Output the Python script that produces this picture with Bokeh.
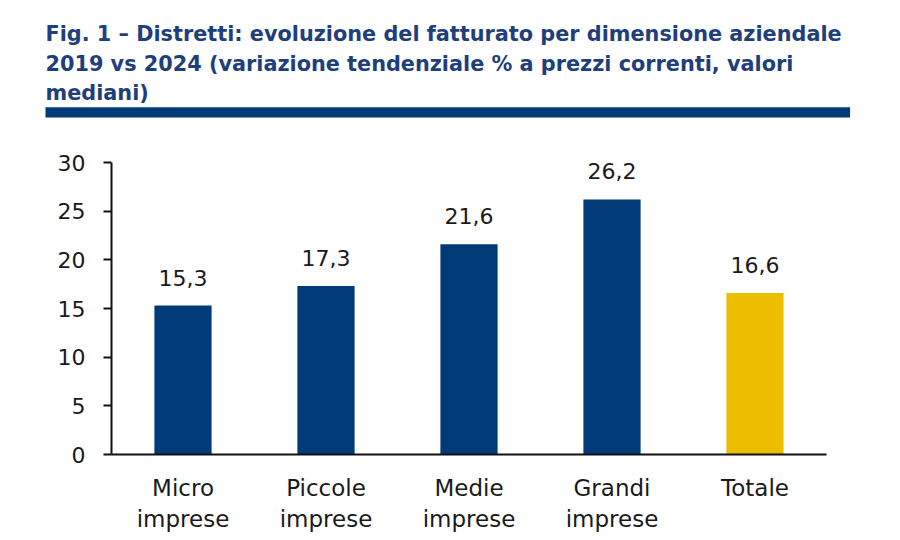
from bokeh.plotting import figure
from bokeh.models import Range1d, FactorRange, FixedTicker, ColumnDataSource, Title
from bokeh.core.properties import value
from bokeh.embed import file_html
from bokeh.resources import INLINE

# ---- data ----
categories = ["Micro\nimprese", "Piccole\nimprese", "Medie\nimprese", "Grandi\nimprese", "Totale"]
values = [15.3, 17.3, 21.6, 26.2, 16.6]
bar_colors = ["#003A78", "#003A78", "#003A78", "#003A78", "#EDBD00"]
y_ticks = [0, 5, 10, 15, 20, 25, 30]
title_lines = [
    "Fig. 1 \u2013 Distretti: evoluzione del fatturato per dimensione aziendale",
    "2019 vs 2024 (variazione tendenziale % a prezzi correnti, valori",
    "mediani)",
]

labels = [f"{v:.1f}".replace(".", ",") for v in values]

TITLE_COLOR = "#1E3E7C"
RULE_COLOR = "#003A78"
TEXT_COLOR = "#1a1a1a"
FONT = "DejaVu Sans"

FRAME_L, FRAME_R, FRAME_T, FRAME_B = 111, 826, 162, 454

src = ColumnDataSource(dict(cat=categories, val=values, col=bar_colors, lab=labels))
p = figure(width=900, height=540, x_range=FactorRange(*categories), y_range=Range1d(0, 30),
           output_backend="svg", toolbar_location=None, title_location=None,
           min_border_left=FRAME_L, min_border_right=900 - FRAME_R,
           min_border_top=FRAME_T, min_border_bottom=540 - FRAME_B)
p.outline_line_color = None
p.grid.visible = False

p.vbar(x="cat", top="val", width=0.4, fill_color="col", line_color=None, source=src)
p.text(x="cat", y="val", text="lab", source=src, text_align="center",
       text_baseline="alphabetic", y_offset=-28,
       text_font=value(FONT), text_font_size="22px", text_color=TEXT_COLOR)

# spacer between the rule and the plot area
p.add_layout(Title(text=" ", text_font_size="1px", standoff=42), "above")
# horizontal rule under the title (a blank title box with a filled background)
# padding order: (left, right, top, bottom)
p.add_layout(Title(text=" ", align="left", offset=45 - FRAME_L, text_font_size="2px",
                   padding=(402, 402, 4, 4), background_fill_color=RULE_COLOR,
                   standoff=0), "above")
for line, so in zip(reversed(title_lines), [2, 4, 4]):
    p.add_layout(Title(text=line, align="left", offset=45 - FRAME_L, text_font="DejaVu Sans",
                       text_font_style="bold", text_font_size="20.8px", text_color=TITLE_COLOR,
                       standoff=so), "above")

p.yaxis.ticker = FixedTicker(ticks=y_ticks)
p.yaxis.minor_tick_line_color = None
p.yaxis.major_tick_out = 8
p.yaxis.major_tick_in = 0
p.yaxis.major_label_standoff = 18

p.xaxis.major_label_standoff = 14
p.xaxis.major_label_text_font_size = "23px"

for ax in (p.xaxis, p.yaxis):
    ax.axis_line_color = "#111111"
    ax.axis_line_width = 2
    ax.major_tick_line_width = 2
    ax.major_label_text_font = FONT
    ax.major_label_text_color = TEXT_COLOR
p.yaxis.major_tick_line_color = "#111111"
p.xaxis.major_tick_line_color = None
p.yaxis.major_label_text_font_size = "22px"

open("out.html", "w").write(file_html(p, INLINE))
